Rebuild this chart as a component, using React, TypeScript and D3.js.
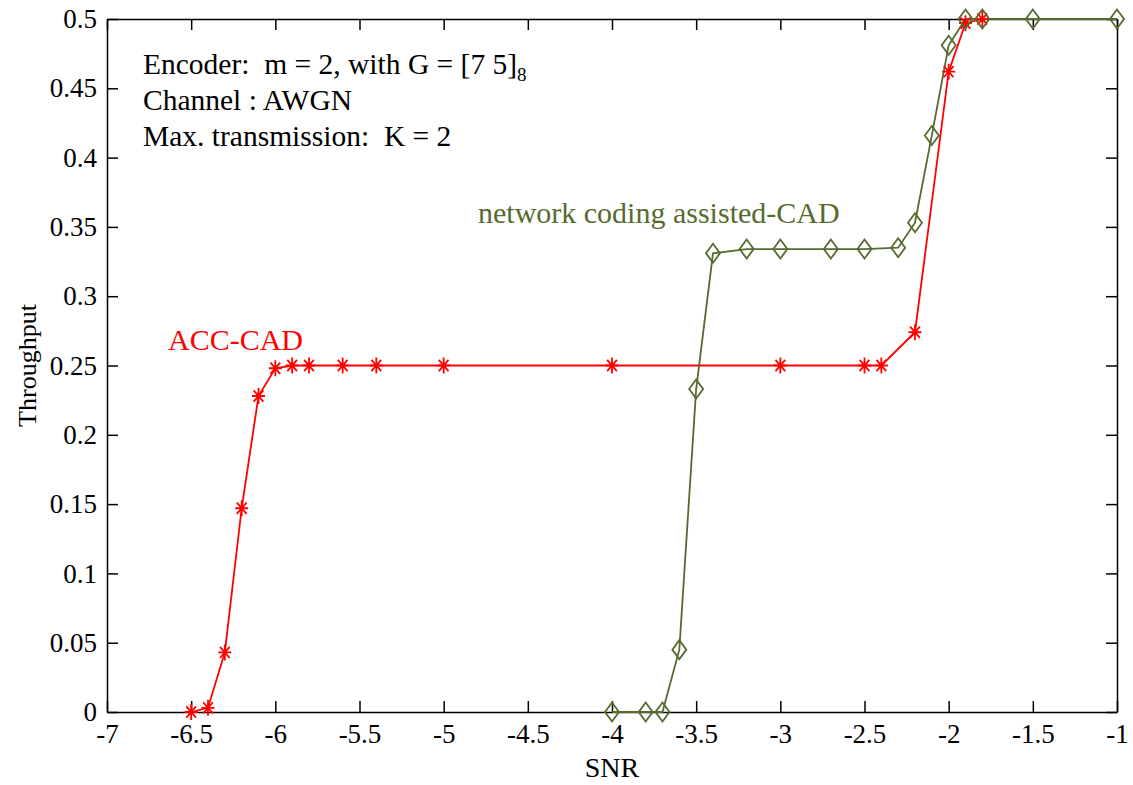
import React, { useRef, useEffect } from 'react';
import * as d3 from 'd3';

const accSnr = [-6.5, -6.4, -6.3, -6.2, -6.1, -6.0, -5.9, -5.8, -5.6, -5.4, -5.0, -4.0, -3.0, -2.5, -2.4, -2.2, -2.0, -1.9, -1.8];
const accThroughput = [0.0, 0.003, 0.043, 0.147, 0.228, 0.248, 0.25, 0.25, 0.25, 0.25, 0.25, 0.25, 0.25, 0.25, 0.25, 0.274, 0.462, 0.497, 0.5];

const ncSnr = [-4.0, -3.8, -3.7, -3.6, -3.5, -3.4, -3.2, -3.0, -2.7, -2.5, -2.3, -2.2, -2.1, -2.0, -1.9, -1.8, -1.5, -1.0];
const ncThroughput = [0.0, 0.0, 0.0, 0.045, 0.233, 0.331, 0.334, 0.334, 0.334, 0.334, 0.335, 0.353, 0.416, 0.481, 0.5, 0.5, 0.5, 0.5];

const xTicks = [-7, -6.5, -6, -5.5, -5, -4.5, -4, -3.5, -3, -2.5, -2, -1.5, -1];
const yTicks = [0, 0.05, 0.1, 0.15, 0.2, 0.25, 0.3, 0.35, 0.4, 0.45, 0.5];

const RED = '#ff0000';
const GREEN = '#566b30';
const FONT = '"Liberation Serif", "Times New Roman", serif';

function App() {
    const ref = useRef<SVGSVGElement | null>(null);

    useEffect(() => {
        const width = 1133;
        const height = 785;
        const margin = { left: 107, right: 16, top: 19, bottom: 73 };
        const innerW = width - margin.left - margin.right;
        const innerH = height - margin.top - margin.bottom;

        const svg = d3.select(ref.current);
        svg.selectAll('*').remove();

        const x = d3.scaleLinear().domain([-7, -1]).range([0, innerW]);
        const y = d3.scaleLinear().domain([0, 0.5]).range([innerH, 0]);

        const g = svg.append('g').attr('transform', `translate(${margin.left},${margin.top})`);

        // frame with inward ticks on all four sides
        const fmt = (d: number) => String(d);
        const bottom = g.append('g').attr('transform', `translate(0,${innerH})`)
            .call(d3.axisBottom(x).tickValues(xTicks).tickFormat(fmt as any).tickSizeInner(-11).tickSizeOuter(0).tickPadding(12));
        const left = g.append('g')
            .call(d3.axisLeft(y).tickValues(yTicks).tickFormat(fmt as any).tickSizeInner(-11).tickSizeOuter(0).tickPadding(10));
        const top = g.append('g')
            .call(d3.axisTop(x).tickValues(xTicks).tickFormat(() => '').tickSizeInner(-11).tickSizeOuter(0));
        const right = g.append('g').attr('transform', `translate(${innerW},0)`)
            .call(d3.axisRight(y).tickValues(yTicks).tickFormat(() => '').tickSizeInner(-11).tickSizeOuter(0));

        [bottom, left, top, right].forEach(a => {
            a.select('.domain').attr('stroke', '#000').attr('stroke-width', 1.5);
            a.selectAll('.tick line').attr('stroke', '#000').attr('stroke-width', 1.5);
            a.selectAll('.tick text').attr('font-family', FONT).attr('font-size', 27).attr('fill', '#000');
        });

        const line = d3.line<[number, number]>()
            .x(d => x(d[0]))
            .y(d => y(d[1]));

        const accData: [number, number][] = accSnr.map((s, i) => [s, accThroughput[i]]);
        const ncData: [number, number][] = ncSnr.map((s, i) => [s, ncThroughput[i]]);

        g.append('path')
            .datum(accData)
            .attr('fill', 'none')
            .attr('stroke', RED)
            .attr('stroke-width', 1.8)
            .attr('d', line);

        g.append('path')
            .datum(ncData)
            .attr('fill', 'none')
            .attr('stroke', GREEN)
            .attr('stroke-width', 1.8)
            .attr('d', line);

        // asterisk markers (a touch taller than wide, as in the original)
        const sx = 6.5, sy = 8;
        g.selectAll('.star')
            .data(accData)
            .enter()
            .append('path')
            .attr('class', 'star')
            .attr('transform', d => `translate(${x(d[0])},${y(d[1])})`)
            .attr('d', `M${-sx},0L${sx},0M0,${-sy}L0,${sy}M${-sx * 0.75},${-sy * 0.7}L${sx * 0.75},${sy * 0.7}M${-sx * 0.75},${sy * 0.7}L${sx * 0.75},${-sy * 0.7}`)
            .attr('stroke', RED)
            .attr('stroke-width', 1.8)
            .attr('fill', 'none');

        // diamond markers
        const dw = 7, dh = 9.5;
        g.selectAll('.diamond')
            .data(ncData)
            .enter()
            .append('path')
            .attr('class', 'diamond')
            .attr('transform', d => `translate(${x(d[0])},${y(d[1])})`)
            .attr('d', `M0,${-dh}L${dw},0L0,${dh}L${-dw},0Z`)
            .attr('stroke', GREEN)
            .attr('stroke-width', 1.8)
            .attr('fill', 'none');

        // annotation block
        const note = svg.append('text')
            .attr('font-family', FONT)
            .attr('font-size', 29.5)
            .attr('fill', '#000')
            .style('white-space', 'pre');
        const l1 = note.append('tspan').attr('x', 143).attr('y', 74);
        l1.append('tspan').text('Encoder:  m = 2, with G = [7 5]');
        l1.append('tspan').attr('font-size', 19).attr('dy', 7).text('8');
        note.append('tspan').attr('x', 143).attr('y', 110).text('Channel : AWGN');
        note.append('tspan').attr('x', 143).attr('y', 146).text('Max. transmission:  K = 2');

        svg.append('text')
            .attr('x', 168).attr('y', 350)
            .attr('font-family', FONT).attr('font-size', 30)
            .attr('fill', RED)
            .text('ACC-CAD');

        svg.append('text')
            .attr('x', 478).attr('y', 223)
            .attr('font-family', FONT).attr('font-size', 30)
            .attr('fill', GREEN)
            .text('network coding assisted-CAD');

        // axis titles
        svg.append('text')
            .attr('x', margin.left + innerW / 2).attr('y', 777)
            .attr('text-anchor', 'middle')
            .attr('font-family', FONT).attr('font-size', 28)
            .text('SNR');

        svg.append('text')
            .attr('transform', `translate(36,${margin.top + innerH / 2}) rotate(-90)`)
            .attr('text-anchor', 'middle')
            .attr('font-family', FONT).attr('font-size', 26)
            .text('Throughput');
    }, []);

    return (
        <svg ref={ref} width={1133} height={785}
            style={{ position: 'absolute', left: 0, top: 0, background: '#fff' }} />
    );
}

export default App;
